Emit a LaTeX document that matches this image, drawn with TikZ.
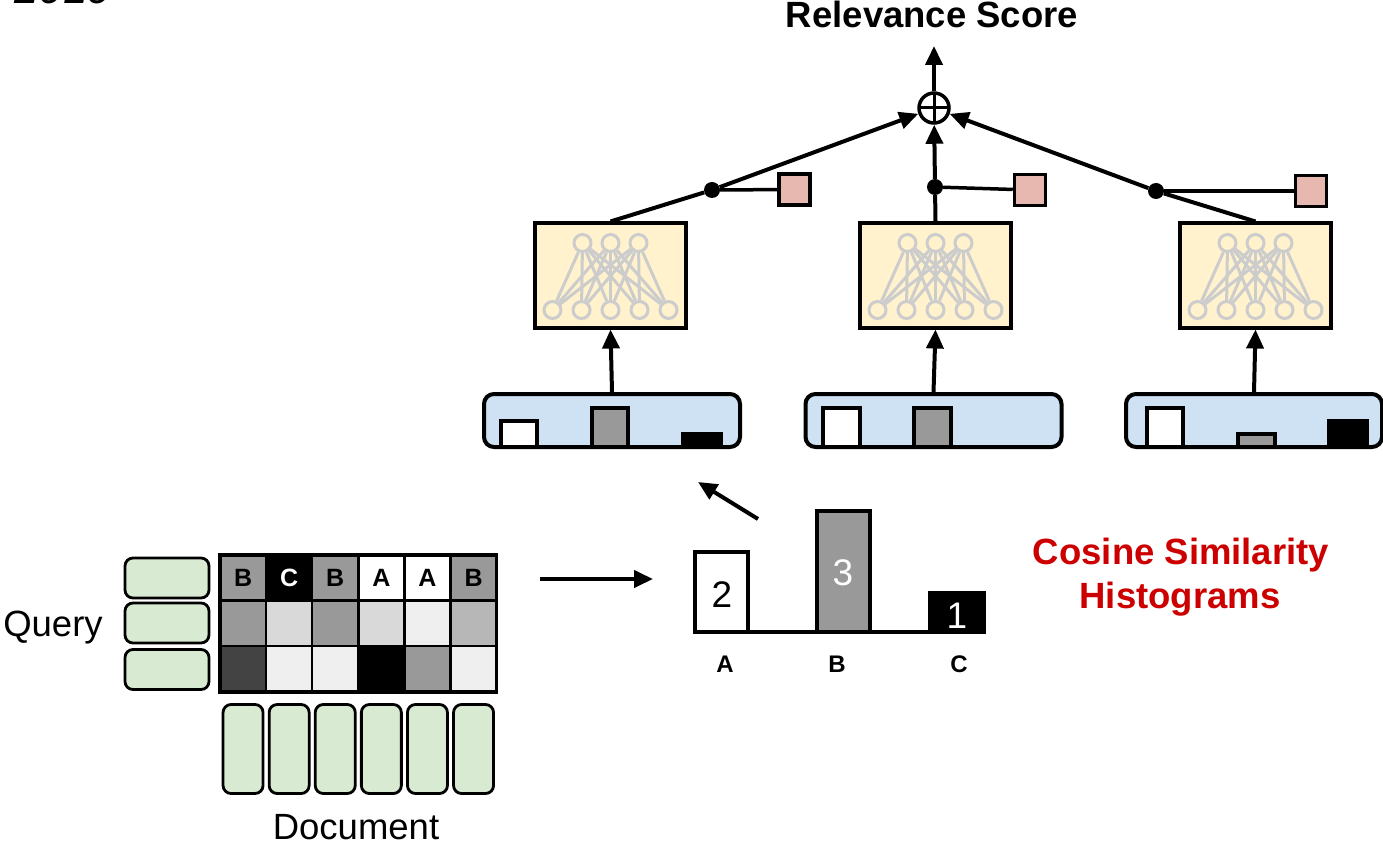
\documentclass[tikz,border=0pt]{standalone}
\usepackage{fontspec}
\setmainfont{Liberation Sans}
\usetikzlibrary{arrows.meta}
\definecolor{nnyellow}{HTML}{FFF2CC}
\definecolor{pinkc}{HTML}{E6B8AF}
\definecolor{histblue}{HTML}{CFE2F3}
\definecolor{qgreen}{HTML}{D9EAD3}
\definecolor{nngrey}{HTML}{CCCCCC}
\definecolor{redc}{HTML}{CC0000}
\definecolor{m1}{HTML}{999999}
\definecolor{m2}{HTML}{D9D9D9}
\definecolor{m3}{HTML}{EFEFEF}
\definecolor{m4}{HTML}{B7B7B7}
\definecolor{m5}{HTML}{434343}
\begin{document}
\begin{tikzpicture}[x=1pt,y=-1pt,
  txt/.style={inner sep=0pt, anchor=base},
  big/.style={font=\fontsize{36.5}{44}\selectfont},
  thick line/.style={line width=4pt},
  arr/.style={line width=4pt, -{Triangle[length=19pt,width=17pt]}},
  nnbox/.style={draw, line width=4pt, fill=nnyellow, minimum width=151pt, minimum height=104pt, inner sep=0pt},
  neuron/.style={circle, draw=nngrey, line width=3pt, fill=nnyellow, minimum size=17pt, inner sep=0pt},
  nnlink/.style={draw=nngrey, line width=3pt},
  pinkbox/.style={draw, line width=3.5pt, fill=pinkc, minimum size=31pt, inner sep=0pt},
  dotnode/.style={circle, fill=black, minimum size=16pt, inner sep=0pt},
  oplus/.style={circle, draw, line width=3.5pt, fill=white, minimum size=30pt, inner sep=0pt,
    path picture={\draw[line width=3pt]
      (path picture bounding box.north) -- (path picture bounding box.south)
      (path picture bounding box.west) -- (path picture bounding box.east);}},
  histbox/.style={draw, line width=4pt, rounded corners=10pt, fill=histblue, minimum width=256pt, minimum height=53pt, inner sep=0pt},
  bar/.style={draw, line width=4pt},
  qbox/.style={draw, line width=2.8pt, rounded corners=8pt, fill=qgreen, minimum width=84pt, minimum height=40pt, inner sep=0pt},
  dbox/.style={draw, line width=2.8pt, rounded corners=8pt, fill=qgreen, minimum width=40pt, minimum height=89pt, inner sep=0pt},
  cell/.style={draw, line width=2.5pt, minimum width=46.1pt, minimum height=45.6pt, inner sep=0pt,
    font=\fontsize{25}{30}\selectfont\bfseries},
  axislabel/.style={txt, font=\fontsize{24}{29}\selectfont\bfseries},
  count/.style={txt, font=\fontsize{37}{44}\selectfont},
]
\useasboundingbox (0,0) rectangle (1383,842);

% year, partly cut by the page edge
\node[inner sep=0pt, anchor=base west, font=\fontsize{44}{50}\selectfont\itshape] (yr) at (14,4) {2019};

% output
\node[txt, font=\fontsize{36.5}{44}\selectfont\bfseries] (score) at (932,28) {Relevance Score};
\node[oplus] (sum) at (934,108) {};
\coordinate (top) at (934,46);
\draw[arr] (sum) -- (top);

% feed-forward networks
\foreach \k/\cx in {1/610.5, 2/935.5, 3/1255.5} {
  \node[nnbox] (nn\k) at (\cx,275.5) {};
  \foreach \i/\dx in {1/-28, 2/0, 3/28}
    \node[neuron] (nn\k-t\i) at (\cx+\dx,243) {};
  \foreach \j/\dx in {1/-58, 2/-29, 3/0, 4/29, 5/58}
    \node[neuron] (nn\k-b\j) at (\cx+\dx,310) {};
  \foreach \i in {1,2,3}
    \foreach \j in {1,...,5}
      \draw[nnlink] (nn\k-t\i) -- (nn\k-b\j);
}

% gating terms
\node[dotnode] (d1) at (712,190) {};
\node[dotnode] (d2) at (935,187) {};
\node[dotnode] (d3) at (1156,191) {};
\node[pinkbox] (sq1) at (794.5,189.5) {};
\node[pinkbox] (sq2) at (1030,190) {};
\node[pinkbox] (sq3) at (1311,191) {};
\draw[thick line] (nn1.north) -- (d1);
\draw[thick line] (nn2.north) -- (d2);
\draw[thick line] (nn3.north) -- (d3);
\draw[arr] (d1) -- (sum);
\draw[arr] (d2) -- (sum);
\draw[arr] (d3) -- (sum);
\draw[line width=3.5pt] (d1) -- (sq1);
\draw[line width=3.5pt] (d2) -- (sq2);
\draw[line width=3.5pt] (d3) -- (sq3);

% histogram inputs
\node[histbox] (hb1) at (612,420.5) {};
\node[histbox] (hb2) at (933.5,420.5) {};
\node[histbox] (hb3) at (1254,420.5) {};
\draw[arr] (hb1.north) -- (nn1.south);
\draw[arr] (hb2.north) -- (nn2.south);
\draw[arr] (hb3.north) -- (nn3.south);

\draw[bar, fill=white] (501,447) rectangle (537,421);
\draw[bar, fill=m1]    (592,447) rectangle (628,408);
\draw[bar, fill=black] (683,447) rectangle (721,434);

\draw[bar, fill=white] (823,447) rectangle (860,408);
\draw[bar, fill=m1]    (914,447) rectangle (951,408);

\draw[bar, fill=white] (1147,447) rectangle (1183,408);
\draw[bar, fill=m1]    (1238,447) rectangle (1275,434);
\draw[bar, fill=black] (1329,447) rectangle (1367,421);

% query and document terms
\node[qbox] (q1) at (167,578) {};
\node[qbox] (q2) at (167,623) {};
\node[qbox] (q3) at (167,669.5) {};
\node[txt, big] (qlabel) at (53,636) {Query};

\foreach \c in {1,...,6}
  \node[dbox] (doc\c) at (220+46.1*\c-23.05,749) {};
\node[txt, big] (dlabel) at (356,839) {Document};

% interaction matrix
\foreach \c/\col/\t/\tc in {1/m1/B/black, 2/black/C/white, 3/m1/B/black, 4/white/A/black, 5/white/A/black, 6/m1/B/black}
  \node[cell, fill=\col, text=\tc] (m1\c) at (220+46.1*\c-23.05,577.8) {\t};
\foreach \c/\col in {1/m1, 2/m2, 3/m1, 4/m2, 5/m3, 6/m4}
  \node[cell, fill=\col] (m2\c) at (220+46.1*\c-23.05,623.4) {};
\foreach \c/\col in {1/m5, 2/m3, 3/m3, 4/black, 5/m1, 6/m3}
  \node[cell, fill=\col] (m3\c) at (220+46.1*\c-23.05,669) {};
\draw[line width=3.5pt] (220,555) rectangle (496.6,691.8);

% matrix to histogram
\coordinate (ma) at (540,579);
\coordinate (mb) at (653,579);
\draw[arr] (ma) -- (mb);

% cosine similarity histogram
\draw[thick line] (695,632) -- (984,632);
\draw[bar, fill=white] (695,632) rectangle (748,552);
\draw[bar, fill=m1]    (817,632) rectangle (870,511);
\draw[bar, fill=black] (930,632) rectangle (984,593);
\node[count] (n2) at (722,607) {2};
\node[count, text=white] (n3) at (843,585) {3};
\node[count, text=white] (n1) at (957,628) {1};
\node[axislabel] (la) at (725,672) {A};
\node[axislabel] (lb) at (837,672) {B};
\node[axislabel] (lc) at (959,672) {C};

\coordinate (ha) at (758,519);
\coordinate (hb) at (698,482);
\draw[arr] (ha) -- (hb);

\node[txt, font=\fontsize{36.5}{44}\selectfont\bfseries, text=redc] (cs1) at (1181,564) {Cosine Similarity};
\node[txt, font=\fontsize{36.5}{44}\selectfont\bfseries, text=redc] (cs2) at (1180,608) {Histograms};
\end{tikzpicture}
\end{document}
